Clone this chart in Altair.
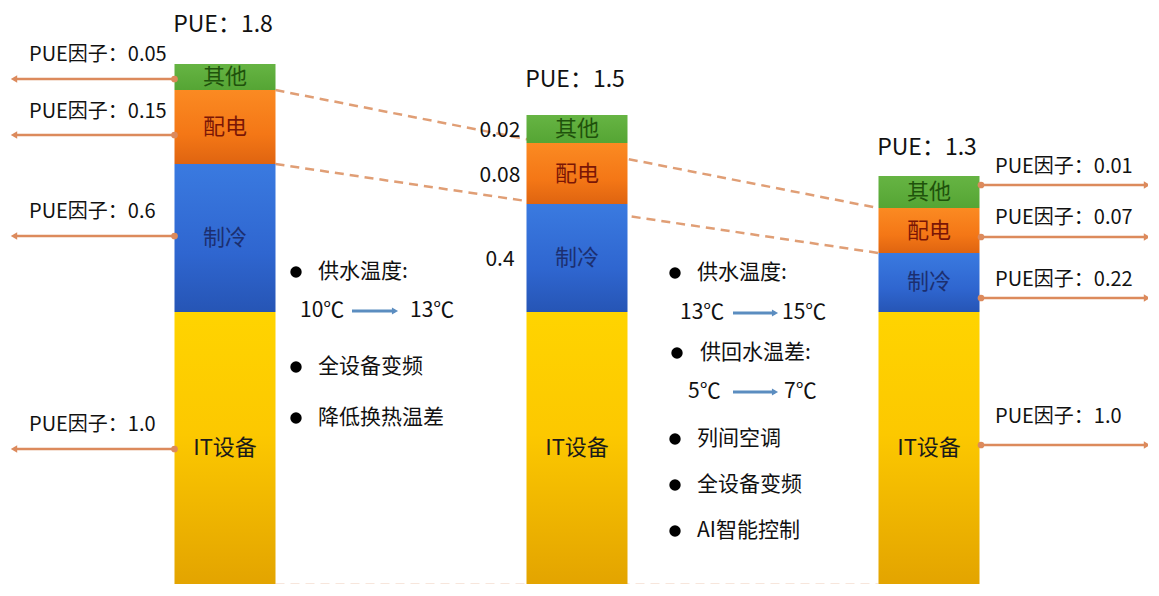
import altair as alt
import pandas as pd

# ---------------- data ----------------
scenario_idx = [0, 1, 2]
pue_total = [1.8, 1.5, 1.3]
segments = ["IT设备", "制冷", "配电", "其他"]
factor_it = [1.0, 1.0, 1.0]
factor_cool = [0.6, 0.4, 0.22]
factor_power = [0.15, 0.08, 0.07]
factor_other = [0.05, 0.02, 0.01]
# block heights as drawn in the picture (IT block = 1)
drawn_it = [1.0, 1.0, 1.0]
drawn_cool = [0.544, 0.397, 0.217]
drawn_power = [0.272, 0.224, 0.165]
drawn_other = [0.096, 0.103, 0.118]

measures_1 = ["供水温度:", "全设备变频", "降低换热温差"]
temps_1 = ["10℃", "13℃"]
measures_2 = ["供水温度:", "供回水温差:", "列间空调", "全设备变频", "AI智能控制"]
temps_2a = ["13℃", "15℃"]
temps_2b = ["5℃", "7℃"]

# ---------------- layout ----------------
W, H = 1140, 576
X0_PX, UNIT_X = 225.0, 352.0      # image x of first bar centre, px per scenario
Y0_PX, UNIT_Y = 584.0, 272.0      # image y of bar bottom, px per unit
BAR_W = 101.0
HW = BAR_W / 2 / UNIT_X
FONT = "Noto Sans CJK SC"


def px_x(px):
    return (px - X0_PX) / UNIT_X


def px_y(py):
    return (Y0_PX - py) / UNIT_Y


XS = alt.Scale(domain=[px_x(8), px_x(8 + W)], nice=False, zero=False)
YS = alt.Scale(domain=[px_y(8 + H), px_y(8)], nice=False, zero=False)

# ---------------- tables ----------------
factors = [factor_it, factor_cool, factor_power, factor_other]
drawn = [drawn_it, drawn_cool, drawn_power, drawn_other]
rows = []
for order, seg in enumerate(segments):
    for i in scenario_idx:
        rows.append(dict(idx=i, segment=seg, order=order,
                         factor=factors[order][i], h=drawn[order][i]))
seg_df = pd.DataFrame(rows)

base = (
    alt.Chart(seg_df)
    .transform_stack(stack="h", groupby=["idx"], as_=["y0", "y1"],
                     sort=[alt.SortField("order", order="ascending")])
    .transform_calculate(xl=f"datum.idx - {HW}", xr=f"datum.idx + {HW}",
                         mid="(datum.y0 + datum.y1) / 2")
)

grad = {
    "IT设备": [("#ffd400", 0), ("#fcc800", 0.45), ("#e3a400", 1)],
    "制冷": [("#3a7ae0", 0), ("#2f66d0", 0.6), ("#2655b5", 1)],
    "配电": [("#fb8a22", 0), ("#f47716", 0.6), ("#df6410", 1)],
    "其他": [("#66b443", 0), ("#55a534", 1)],
}
label_color = {"IT设备": "#1a1a1a", "制冷": "#1c2f70", "配电": "#7a1606", "其他": "#1f520c"}

bar_layers = []
for seg in segments:
    g = alt.Gradient(gradient="linear", x1=0, x2=0, y1=0, y2=1,
                     stops=[alt.GradientStop(color=c, offset=o) for c, o in grad[seg]])
    bar_layers.append(
        base.transform_filter(alt.datum.segment == seg)
        .mark_bar(color=g)
        .encode(x=alt.X("xl:Q", scale=XS, axis=None), x2="xr:Q",
                y=alt.Y("y0:Q", scale=YS, axis=None), y2="y1:Q")
    )

seg_text = (
    base.mark_text(font=FONT, fontSize=22, baseline="middle", align="center")
    .encode(x=alt.X("idx:Q", scale=XS, axis=None),
            y=alt.Y("mid:Q", scale=YS, axis=None),
            text="segment:N",
            color=alt.Color("segment:N", scale=alt.Scale(domain=list(label_color.keys()),
                                                         range=list(label_color.values())),
                            legend=None))
)

# bar 2 left values
mid_text = (
    base.transform_filter((alt.datum.idx == 1) & (alt.datum.order > 0))
    .mark_text(font=FONT, fontSize=21, baseline="middle", align="center", dy=2, color="#111")
    .encode(x=alt.value(500 - 8), y=alt.Y("mid:Q", scale=YS, axis=None), text="factor:N")
)

# dashed connectors between bar 1 and bar 3 (cooling top, power top, bottom)
cool_top = [a + b for a, b in zip(drawn_it, drawn_cool)]
power_top = [a + b for a, b in zip(cool_top, drawn_power)]
dash_df = pd.DataFrame([
    dict(line="p", x=0 + HW, y=power_top[0]), dict(line="p", x=2 - HW, y=power_top[2]),
    dict(line="c", x=0 + HW, y=cool_top[0]), dict(line="c", x=2 - HW, y=cool_top[2]),
    dict(line="b", x=0 + HW, y=-0.004), dict(line="b", x=2 - HW, y=-0.004),
])
dash = alt.Chart(dash_df).mark_line(strokeDash=[9, 6], strokeWidth=2.5, color="#dd9466", opacity=0.9).encode(
    x=alt.X("x:Q", scale=XS, axis=None), y=alt.Y("y:Q", scale=YS, axis=None), detail="line:N")

# PUE totals
pue_label_py = [25, 80, 148]
pue_df = pd.DataFrame(dict(idx=scenario_idx, y=[px_y(p) for p in pue_label_py],
                           t=[f"PUE：{v}" for v in pue_total]))
pue_text = alt.Chart(pue_df).mark_text(font=FONT, fontSize=23, align="center", baseline="middle",
                                       color="#111", dx=-2).encode(
    x=alt.X("idx:Q", scale=XS, axis=None), y=alt.Y("y:Q", scale=YS, axis=None), text="t:N")

# factor arrows (bar 1 to the left, bar 3 to the right)
arrow_color = "#dc8a5c"
left_arrow_py = [79, 135, 236, 449]
left_label_py = [55, 112, 212, 425]
right_arrow_py = [185, 237, 298, 445]
right_label_py = [167, 218, 280, 417]
fac1 = [factor_other[0], factor_power[0], factor_cool[0], factor_it[0]]
fac3 = [factor_other[2], factor_power[2], factor_cool[2], factor_it[2]]

arr_rows, lab_rows = [], []
for f, ay, ly in zip(fac1, left_arrow_py, left_label_py):
    arr_rows.append(dict(xs=0 - HW, xe=px_x(14), y=px_y(ay), side="L"))
    lab_rows.append(dict(x=px_x(29), y=px_y(ly), t=f"PUE因子：{f}"))
for f, ay, ly in zip(fac3, right_arrow_py, right_label_py):
    arr_rows.append(dict(xs=2 + HW + 1.5 / UNIT_X, xe=px_x(1147), y=px_y(ay), side="R"))
    lab_rows.append(dict(x=px_x(995), y=px_y(ly), t=f"PUE因子：{f}"))
arr_df = pd.DataFrame(arr_rows)
lab_df = pd.DataFrame(lab_rows)

arr_rule = alt.Chart(arr_df).mark_rule(color=arrow_color, strokeWidth=2.5).encode(
    x=alt.X("xs:Q", scale=XS, axis=None), x2="xe:Q", y=alt.Y("y:Q", scale=YS, axis=None))
arr_dot = alt.Chart(arr_df).mark_circle(color=arrow_color, size=45, opacity=1).encode(
    x=alt.X("xs:Q", scale=XS, axis=None), y=alt.Y("y:Q", scale=YS, axis=None))
arr_head_l = alt.Chart(arr_df).transform_filter(alt.datum.side == "L").mark_point(
    shape="triangle-left", filled=True, size=55, color=arrow_color, opacity=1).encode(
    x=alt.X("xe:Q", scale=XS, axis=None), y=alt.Y("y:Q", scale=YS, axis=None))
arr_head_r = alt.Chart(arr_df).transform_filter(alt.datum.side == "R").mark_point(
    shape="triangle-right", filled=True, size=55, color=arrow_color, opacity=1).encode(
    x=alt.X("xe:Q", scale=XS, axis=None), y=alt.Y("y:Q", scale=YS, axis=None))
fac_text = alt.Chart(lab_df).mark_text(font=FONT, fontSize=20, align="left", baseline="middle",
                                       color="#111").encode(
    x=alt.X("x:Q", scale=XS, axis=None), y=alt.Y("y:Q", scale=YS, axis=None), text="t:N")

# bullet annotations
note_rows = [
    (measures_1[0], 318, 272), (measures_1[1], 318, 367), (measures_1[2], 318, 418),
    (temps_1[0], 300, 311), (temps_1[1], 410, 311),
    (measures_2[0], 697, 273), (temps_2a[0], 680, 313), (temps_2a[1], 782, 313),
    (measures_2[1], 700, 353), (temps_2b[0], 688, 392), (temps_2b[1], 784, 392),
    (measures_2[2], 697, 439), (measures_2[3], 697, 485), (measures_2[4], 697, 531),
]
note_df = pd.DataFrame([dict(t=t, x=px_x(x), y=px_y(y)) for t, x, y in note_rows])
note_text = alt.Chart(note_df).mark_text(font=FONT, fontSize=21, align="left", baseline="middle",
                                         color="#111").encode(
    x=alt.X("x:Q", scale=XS, axis=None), y=alt.Y("y:Q", scale=YS, axis=None), text="t:N")

bullet_pos = [(296, 272), (296, 367), (296, 418), (675, 273), (677, 353), (675, 439), (675, 485), (675, 531)]
bullet_df = pd.DataFrame([dict(x=px_x(x), y=px_y(y)) for x, y in bullet_pos])
bullets = alt.Chart(bullet_df).mark_circle(color="#000", size=130, opacity=1).encode(
    x=alt.X("x:Q", scale=XS, axis=None), y=alt.Y("y:Q", scale=YS, axis=None))

blue_pos = [(352, 395, 311), (733, 775, 313), (733, 775, 392)]
blue_df = pd.DataFrame([dict(xs=px_x(a), xe=px_x(b), y=px_y(c)) for a, b, c in blue_pos])
blue_rule = alt.Chart(blue_df).mark_rule(color="#5b8dc0", strokeWidth=3).encode(
    x=alt.X("xs:Q", scale=XS, axis=None), x2="xe:Q", y=alt.Y("y:Q", scale=YS, axis=None))
blue_head = alt.Chart(blue_df).mark_point(shape="triangle-right", filled=True, size=50,
                                          color="#5b8dc0", opacity=1).encode(
    x=alt.X("xe:Q", scale=XS, axis=None), y=alt.Y("y:Q", scale=YS, axis=None))

chart = alt.layer(
    dash, *bar_layers, seg_text, mid_text, pue_text,
    arr_rule, arr_dot, arr_head_l, arr_head_r, fac_text,
    note_text, bullets, blue_rule, blue_head,
).properties(
    width=W, height=H, padding=0,
    autosize=alt.AutoSizeParams(type="none"),
    background="white",
).configure_view(stroke=None)

chart.save("out.html", embed_options={"renderer": "svg", "actions": False})
